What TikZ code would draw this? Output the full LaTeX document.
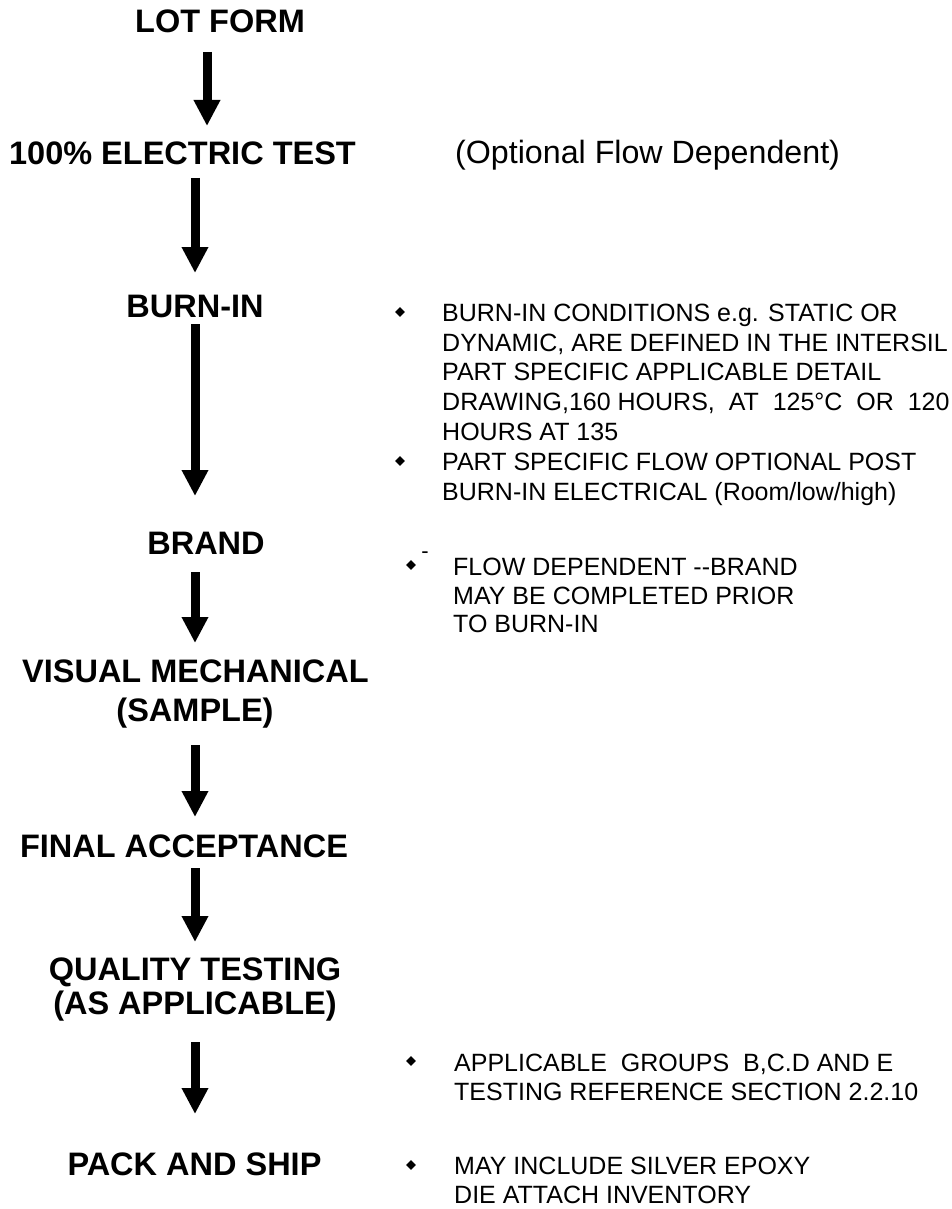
\documentclass[tikz,border=0pt]{standalone}
\usepackage{fontspec}
\setmainfont{Liberation Sans}
\usetikzlibrary{arrows.meta,shapes.geometric}
\begin{document}
\begin{tikzpicture}[x=1pt,y=-1pt,
  title/.style={font=\fontsize{32.5}{39}\selectfont\bfseries, inner sep=0pt, anchor=base},
  opt/.style={font=\fontsize{32.2}{39}\selectfont, inner sep=0pt, anchor=base west},
  note/.style={font=\fontsize{25}{30}\selectfont, inner sep=0pt, anchor=base west},
  flow/.style={line width=9pt, -{Triangle[width=25pt,length=26pt]}},
  bullet/.style={diamond, fill=black, inner sep=0pt, minimum size=10pt}]
\useasboundingbox (0,0) rectangle (952,1209);
\fill[white] (0,0) rectangle (952,1209);

% stages
\node[title] (lot)   at (220,33)   {LOT FORM};
\node[title] (elec)  at (182.5,165) {100\% ELECTRIC TEST};
\node[opt]   (optn)  at (455,164)  {(Optional Flow Dependent)};
\node[title] (burn)  at (195,317)  {BURN-IN};
\node[title] (brand) at (206,554)  {BRAND};
\node[title] (vis)   at (195.5,682) {VISUAL MECHANICAL};
\node[title] (samp)  at (195,721)  {(SAMPLE)};
\node[title] (final) at (184,857)  {FINAL ACCEPTANCE};
\node[title] (qual)  at (195,980)  {QUALITY TESTING};
\node[title] (asapp) at (195,1014) {(AS APPLICABLE)};
\node[title] (pack)  at (194.5,1175) {PACK AND SHIP};

% arrow end points
\coordinate (a1s) at (207,52);   \coordinate (a1e) at (207,126);
\coordinate (a2s) at (195,178);  \coordinate (a2e) at (195,273);
\coordinate (a3s) at (195,324);  \coordinate (a3e) at (195,496);
\coordinate (a4s) at (195,572);  \coordinate (a4e) at (195,643);
\coordinate (a5s) at (195,745);  \coordinate (a5e) at (195,817);
\coordinate (a6s) at (195,868);  \coordinate (a6e) at (195,942);
\coordinate (a7s) at (195,1042); \coordinate (a7e) at (195,1114);
\draw[flow] (a1s) -- (a1e);
\draw[flow] (a2s) -- (a2e);
\draw[flow] (a3s) -- (a3e);
\draw[flow] (a4s) -- (a4e);
\draw[flow] (a5s) -- (a5e);
\draw[flow] (a6s) -- (a6e);
\draw[flow] (a7s) -- (a7e);

% notes for burn-in
\node[bullet] (b1) at (400,312) {};
\node[note] (b1l1) at (442,321) {BURN-IN CONDITIONS e.g. STATIC OR};
\node[note] (b1l2) at (442,351) {DYNAMIC, ARE DEFINED IN THE INTERSIL};
\node[note] (b1l3) at (442,380) {PART SPECIFIC APPLICABLE DETAIL};
\node[note] (b1l4) at (442,410) {DRAWING,160 HOURS,\ \ AT\ \ 125°C\ \ OR\ \ 120};
\node[note] (b1l5) at (442,440) {HOURS AT 135};
\node[bullet] (b2) at (400,461) {};
\node[note] (b2l1) at (442,470) {PART SPECIFIC FLOW OPTIONAL POST};
\node[note] (b2l2) at (442,500) {BURN-IN ELECTRICAL (Room/low/high)};

% note for brand
\node[bullet] (b3) at (411,565) {};
\node[font=\fontsize{22}{24}\selectfont, inner sep=0pt, anchor=base] (b3d) at (425,558) {-};
\node[note] (b3l1) at (453,575) {FLOW DEPENDENT -{}-BRAND};
\node[note] (b3l2) at (453,604) {MAY BE COMPLETED PRIOR};
\node[note] (b3l3) at (453,632) {TO BURN-IN};

% note for quality testing
\node[bullet] (b4) at (411,1061) {};
\node[note] (b4l1) at (454,1071) {APPLICABLE\ \ GROUPS\ \ B,C.D AND E};
\node[note] (b4l2) at (454,1100) {TESTING REFERENCE SECTION 2.2.10};

% note for pack and ship
\node[bullet] (b5) at (411,1165) {};
\node[note] (b5l1) at (454,1174) {MAY INCLUDE SILVER EPOXY};
\node[note] (b5l2) at (454,1203) {DIE ATTACH INVENTORY};
\end{tikzpicture}
\end{document}
